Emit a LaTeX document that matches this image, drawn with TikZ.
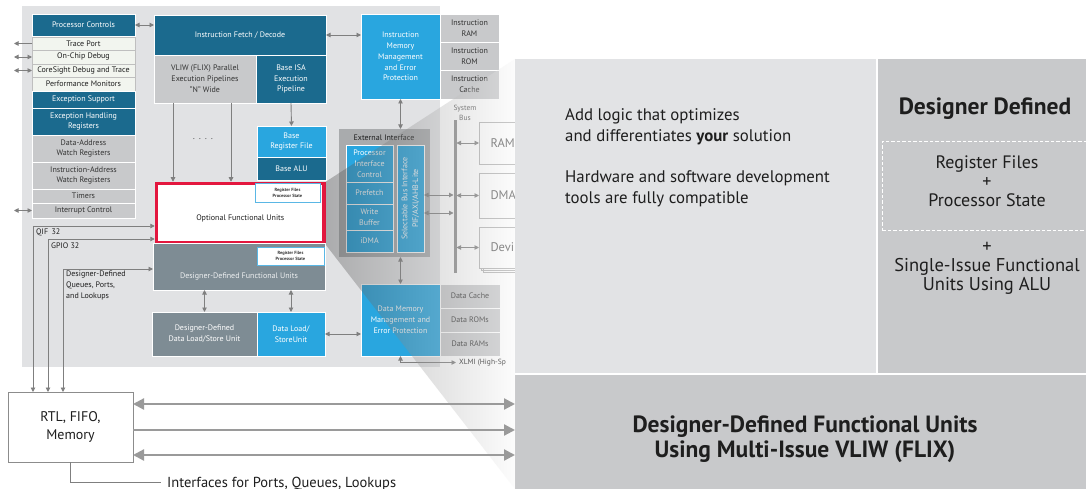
\documentclass[tikz,border=0pt]{standalone}
\usepackage{fontspec}
\setmainfont{PT Sans}
\usetikzlibrary{arrows.meta}
\definecolor{cpanel}{HTML}{E1E2E4}
\definecolor{cteal}{HTML}{1B6A8E}
\definecolor{cblue}{HTML}{29A6DF}
\definecolor{cgray}{HTML}{C8C9CB}
\definecolor{cslate}{HTML}{7E8C94}
\definecolor{clight}{HTML}{F2F5EF}
\definecolor{cext}{HTML}{A9ABAD}
\definecolor{cred}{HTML}{E3173E}
\definecolor{carrow}{HTML}{7F7F7F}
\definecolor{cbig}{HTML}{9A9A9A}
\definecolor{cpale}{HTML}{E2E3E5}
\definecolor{ctext}{HTML}{1E1E1E}
\definecolor{cdark}{HTML}{333333}
\definecolor{cbluel}{HTML}{5AB7E5}
\newcommand\fsa{\fontsize{8}{10.8}\selectfont}
\newcommand\fsi{\fontsize{4.5}{6}\selectfont\bfseries}
\newcommand\mybox[7]{\node[#1, anchor=north west, minimum width={(#5-#3)*1pt}, minimum height={(#6-#4)*1pt}] (#2) at (#3,#4) {#7};}
\begin{document}
\begin{tikzpicture}[x=1pt,y=-1pt,
  box/.style={inner sep=0pt, outer sep=0pt, align=center, font=\fsa},
  teal/.style={box, fill=cteal, text=white, draw=white, line width=0.6pt},
  blue/.style={box, fill=cblue, text=white, draw=white, line width=0.6pt},
  gbox/.style={box, fill=cgray, text=cdark, draw=white, line width=0.6pt},
  lrow/.style={box, fill=clight, text=ctext, draw=black!25, line width=0.6pt},
  slate/.style={box, fill=cslate, text=white, draw=white, line width=0.6pt},
  rfbox/.style={box, fill=white, draw=cbluel, line width=1pt, text=cdark, font=\fsi, align=center},
  bbox/.style={box, fill=white, draw=black!30, line width=0.7pt, text=black!65, font=\fontsize{12.5}{14}\selectfont, text width=28pt, align=left},
  lbl/.style={inner sep=1pt, font=\fsa, text=ctext},
  arr/.style={draw=carrow, line width=0.9pt, -{Triangle[length=4.5pt,width=4.5pt]}},
  darr/.style={draw=carrow, line width=0.9pt, {Triangle[length=4.5pt,width=4.5pt]}-{Triangle[length=4.5pt,width=4.5pt]}},
  bigs/.style={draw=cbig, line width=2.2pt, -{Triangle[length=11pt,width=11pt]}},
  bigd/.style={draw=cbig, line width=2.2pt, {Triangle[length=11pt,width=11pt]}-{Triangle[length=11pt,width=11pt]}},
  panel/.style={box, draw=none},
  rtxt/.style={inner sep=0pt, text=ctext}
]
\useasboundingbox (0,0) rectangle (1086,489);
\fill[white] (0,0) rectangle (1086,489);

% main panel
\mybox{panel, fill=cpanel}{mainp}{22}{6}{440}{367}{}

% left column
\mybox{teal}{pc}{32}{14}{135}{36}{Processor Controls}
\mybox{lrow}{tp}{32}{37}{135}{50}{Trace Port}
\mybox{lrow}{ocd}{32}{50}{135}{64}{On-Chip Debug}
\mybox{lrow}{csd}{32}{64}{135}{77}{CoreSight Debug and Trace}
\mybox{lrow}{pm}{32}{77}{135}{91}{Performance Monitors}
\mybox{teal}{es}{32}{91}{135}{108}{Exception Support}
\mybox{teal}{ehr}{32}{108}{135}{135}{Exception Handling\\Registers}
\mybox{gbox}{dawr}{32}{135}{135}{162}{Data-Address\\Watch Registers}
\mybox{gbox}{iawr}{32}{162}{135}{189}{Instruction-Address\\Watch Registers}
\mybox{gbox}{tim}{32}{189}{135}{203}{Timers}
\mybox{gbox}{ic}{32}{203}{135}{218}{Interrupt Control}

\coordinate (lx) at (14,0);
\draw[arr] (tp.west) -- (tp.west -| lx);
\draw[darr] (ocd.west) -- (ocd.west -| lx);
\draw[darr] (csd.west) -- (csd.west -| lx);
\draw[darr] (ic.west) -- (ic.west -| lx);

% centre column
\mybox{teal}{ifd}{154}{15}{326}{55}{Instruction Fetch / Decode}
\mybox{gbox}{vliw}{154}{55}{256}{103}{VLIW (FLIX) Parallel\\Execution Pipelines\\"N" Wide}
\mybox{teal}{bisa}{256}{55}{326}{103}{Base ISA\\Execution\\Pipeline}
\mybox{blue}{brf}{257}{126}{326}{157}{Base\\Register File}
\mybox{teal}{balu}{257}{157}{326}{180}{Base ALU}
\node[draw=cred, line width=3.5pt, fill=white, inner sep=0pt, anchor=north west,
  minimum width=167.5pt, minimum height=59.5pt, font=\fsa, text=ctext,
  label={[font=\fsa, text=ctext, yshift=-5pt]center:Optional Functional Units}] (ofu) at (154.75,181.75) {};
\mybox{rfbox}{rfa}{255}{184}{320}{202}{Register Files\\Processor State}
\mybox{slate}{ddfu}{153}{243}{325}{290}{}
\node[font=\fsa, text=white!88!cslate] at (239,277) {Designer-Defined Functional Units};
\mybox{rfbox}{rfb}{257}{247}{324}{265}{Register Files\\Processor State}
\mybox{slate}{ddls}{152}{312}{257}{356}{Designer-Defined\\Data Load/Store Unit}
\mybox{blue}{dlsu}{257}{312}{325}{356}{Data Load/\\StoreUnit}

\coordinate (v1) at (173,0);
\coordinate (v2) at (231,0);
\draw[arr] (v1 |- vliw.south) -- (v1 |- ofu.north);
\draw[arr] (v2 |- vliw.south) -- (v2 |- ofu.north);
\node[font=\fsa, text=ctext] (dots) at (203,139) {.\ \ .\ \ .\ \ .};
\draw[arr] (bisa.south) -- (brf.north);
\draw[darr] (pc.east) -- (pc.east -| ifd.west);
\draw[darr] (ddls.north) -- (ddls.north |- ddfu.south);
\draw[darr] (dlsu.north) -- (dlsu.north |- ddfu.south);

% memory column
\mybox{blue}{imm}{361}{14}{440}{99}{Instruction\\Memory\\Management\\and Error\\Protection}
\mybox{gbox}{iram}{440}{14}{499}{42}{Instruction\\RAM}
\mybox{gbox}{irom}{440}{42}{499}{70}{Instruction\\ROM}
\mybox{gbox}{icache}{440}{70}{499}{99}{Instruction\\Cache}
\draw[darr] (ifd.east |- imm.west) ++(0,-21.5) coordinate (ia) -- (ia -| imm.west);

\mybox{panel, fill=cext}{ext}{339}{129}{430}{257}{}
\node[font=\fsa, text=ctext] (extl) at (384,137.5) {External Interface};
\mybox{blue}{pic}{346}{145}{393}{182}{Processor\\Interface\\Control}
\mybox{blue}{pre}{346}{182}{393}{204}{Prefetch}
\mybox{blue}{wb}{346}{204}{393}{230}{Write\\Buffer}
\mybox{blue}{idma}{346}{230}{393}{252}{iDMA}
\mybox{blue}{sbi}{397}{145}{424}{252}{}
\node[rotate=90, align=center, font=\fsa, text=white] (sbit) at (sbi.center) {Selectable Bus Interface\\PIF/AXI/AHB-Lite};
\draw[darr] (imm.south) -- (imm.south |- ext.north);

\mybox{blue}{dmm}{361}{284}{440}{356}{Data Memory\\Management and\\Error Protection}
\mybox{gbox}{dcache}{440}{284}{500}{308}{Data Cache}
\mybox{gbox}{droms}{440}{308}{500}{332}{Data ROMs}
\mybox{gbox}{drams}{440}{332}{500}{356}{Data RAMs}
\draw[darr] (dmm.north) -- (dmm.north |- ext.south);
\draw[darr] (dlsu.east) -- (dlsu.east -| dmm.west);
\node[lbl, anchor=west, font=\fontsize{7.5}{8}\selectfont, inner sep=0pt] (xlmi) at (459,362.5) {XLMI (High-Sp};
\draw[darr] (dmm.south) |- ([xshift=-3pt]xlmi.west);

% system bus
\node[font=\fontsize{7.5}{9.5}\selectfont, text=black!65, align=center] (sbl) at (465,113) {System\\Bus};
\mybox{panel, fill=black!45}{bus}{453.5}{120}{456.5}{273}{}
\draw[black!30, line width=0.6pt] (483,231) rectangle (534,272);
\draw[black!30, line width=0.6pt] (481,229) rectangle (532,270);
\mybox{bbox}{ram}{479}{122}{530}{164}{RAM}
\mybox{bbox}{dma}{479}{173}{530}{218}{DMA}
\mybox{bbox}{devi}{479}{227}{530}{268}{Devi}
\coordinate (y1) at (0,195);
\coordinate (y2) at (0,213);
\draw[darr] (sbi.east |- y1) -- (bus.west |- y1);
\draw[darr] (sbi.east |- y2) -- (bus.west |- y2);
\draw[darr] (bus.east |- ram.west) -- (ram.west);
\draw[darr] (bus.east |- dma.west) -- (dma.west);
\draw[darr] (bus.east |- devi.west) -- (devi.west);

% left signal lines
\mybox{box, fill=white, draw=black!45, line width=0.9pt, font=\fontsize{14}{18}\selectfont, text=ctext}{rtl}{8}{392}{133}{462}{RTL, FIFO,\\Memory}
\coordinate (q1) at (33,226);
\coordinate (q2) at (48,239);
\coordinate (q3) at (63,269);
\draw[darr] (q1 |- rtl.north) -- (q1) -- (q1 -| ofu.west);
\draw[darr] (q2 |- rtl.north) -- (q2) -- (q2 -| ofu.west);
\draw[darr] (q3 |- rtl.north) -- (q3) -- (q3 -| ddfu.west);
\node[lbl, anchor=west] (qifl) at (35,232.5) {QIF\, 32};
\node[lbl, anchor=west] (gpiol) at (50,245.5) {GPIO 32};
\node[lbl, anchor=north west, align=left, font=\fontsize{8}{11}\selectfont] (ddql) at (65,269.5) {Designer-Defined\\Queues, Ports,\\and Lookups};

% right panels
\mybox{panel, fill=cpale}{addp}{515}{59}{876}{373}{}
\mybox{panel, fill=cgray}{ddp}{878}{59}{1086}{373}{}
\mybox{panel, fill=cgray}{flix}{515}{375}{1086}{489}{}

% zoom wedge
\shade[left color=black!75, right color=black!3, opacity=0.33]
  (ofu.north east) -- (addp.north west) -- (flix.south west) -- (ofu.south east) -- cycle;

% bottom connectors
\coordinate (b1) at (0,404);
\coordinate (b2) at (0,430);
\coordinate (b3) at (0,455);
\draw[bigd] (rtl.east |- b1) -- (flix.west |- b1);
\draw[bigs] (rtl.east |- b2) -- (flix.west |- b2);
\draw[bigd] (rtl.east |- b3) -- (flix.west |- b3);
\node[anchor=base west, rtxt, font=\fontsize{14.5}{16}\selectfont] (ifl) at (167,487) {Interfaces for Ports, Queues, Lookups};
\draw[draw=carrow, line width=0.9pt] (rtl.south) |- ([xshift=-6pt, yshift=0.5pt]ifl.west);

% right panel texts (base = last line)
\node[anchor=base west, align=left, rtxt, font=\fontsize{16.8}{21}\selectfont] (t1) at (565,141.5) {Add logic that optimizes\\and differentiates \textbf{your} solution};
\node[anchor=base west, align=left, rtxt, font=\fontsize{16.8}{21}\selectfont] (t2) at (565,204) {Hardware and software development\\tools are fully compatible};
\node[anchor=base, rtxt, font=\fontsize{23.5}{25}\selectfont\bfseries] (ddt) at (985,115) {Designer Defined};
\node[draw=white, dashed, dash pattern=on 3.5pt off 2pt, line width=0.8pt, anchor=north west, inner sep=0pt, minimum width=212pt, minimum height=89pt] (rfd) at (882,141) {};
\node[anchor=base, align=center, rtxt, font=\fontsize{18}{19.5}\selectfont] (rft) at (987,207) {Register Files\\+\\Processor State};
\node[anchor=base, align=center, rtxt, font=\fontsize{18.5}{19}\selectfont] (siu) at (987,290.5) {+\\Single-Issue Functional\\Units Using ALU};
\node[anchor=base, align=center, rtxt, font=\fontsize{23.5}{25}\selectfont\bfseries] (flt) at (805,457) {Designer-Defined Functional Units\\Using Multi-Issue VLIW (FLIX)};
\end{tikzpicture}
\end{document}
